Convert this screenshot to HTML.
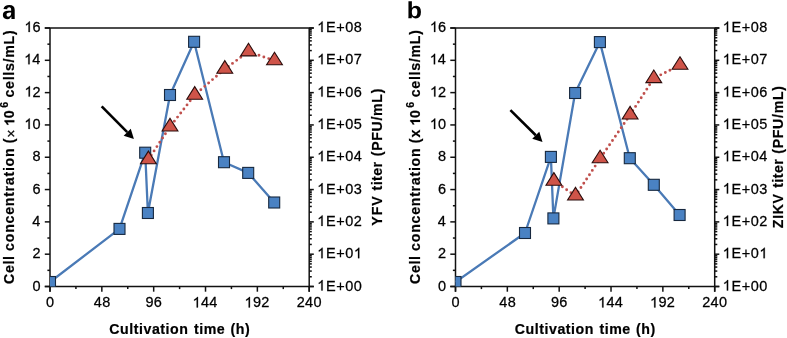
<!DOCTYPE html>
<html><head><meta charset="utf-8"><style>
html,body{margin:0;padding:0;background:#fff;}
svg{display:block;will-change:transform;}
</style></head><body>
<svg width="787" height="338" viewBox="0 0 787 338">
<rect width="787" height="338" fill="#fff"/>
<g stroke="#111" stroke-width="1.5" fill="none">
<path d="M44.8,28H313.8"/>
<path d="M50,28V291.7"/>
<path d="M44.8,286.5H313.8"/>
<path d="M309.2,28V291.7"/>
<path d="M44.8,286.50H50"/>
<path d="M47.4,270.34H50"/>
<path d="M44.8,254.19H50"/>
<path d="M47.4,238.03H50"/>
<path d="M44.8,221.88H50"/>
<path d="M47.4,205.72H50"/>
<path d="M44.8,189.56H50"/>
<path d="M47.4,173.41H50"/>
<path d="M44.8,157.25H50"/>
<path d="M47.4,141.09H50"/>
<path d="M44.8,124.94H50"/>
<path d="M47.4,108.78H50"/>
<path d="M44.8,92.62H50"/>
<path d="M47.4,76.47H50"/>
<path d="M44.8,60.31H50"/>
<path d="M47.4,44.16H50"/>
<path d="M44.8,28.00H50"/>
<path d="M50.00,286.5V291.7"/>
<path d="M75.92,286.5V289.1"/>
<path d="M101.84,286.5V291.7"/>
<path d="M127.76,286.5V289.1"/>
<path d="M153.68,286.5V291.7"/>
<path d="M179.60,286.5V289.1"/>
<path d="M205.52,286.5V291.7"/>
<path d="M231.44,286.5V289.1"/>
<path d="M257.36,286.5V291.7"/>
<path d="M283.28,286.5V289.1"/>
<path d="M309.20,286.5V291.7"/>
<path d="M309.2,286.50H313.8"/>
<path d="M309.2,276.77H311.8"/>
<path d="M309.2,271.08H311.8"/>
<path d="M309.2,267.05H311.8"/>
<path d="M309.2,263.91H311.8"/>
<path d="M309.2,261.36H311.8"/>
<path d="M309.2,259.19H311.8"/>
<path d="M309.2,257.32H311.8"/>
<path d="M309.2,255.67H311.8"/>
<path d="M309.2,254.19H313.8"/>
<path d="M309.2,244.46H311.8"/>
<path d="M309.2,238.77H311.8"/>
<path d="M309.2,234.73H311.8"/>
<path d="M309.2,231.60H311.8"/>
<path d="M309.2,229.04H311.8"/>
<path d="M309.2,226.88H311.8"/>
<path d="M309.2,225.01H311.8"/>
<path d="M309.2,223.35H311.8"/>
<path d="M309.2,221.88H313.8"/>
<path d="M309.2,212.15H311.8"/>
<path d="M309.2,206.46H311.8"/>
<path d="M309.2,202.42H311.8"/>
<path d="M309.2,199.29H311.8"/>
<path d="M309.2,196.73H311.8"/>
<path d="M309.2,194.57H311.8"/>
<path d="M309.2,192.69H311.8"/>
<path d="M309.2,191.04H311.8"/>
<path d="M309.2,189.56H313.8"/>
<path d="M309.2,179.84H311.8"/>
<path d="M309.2,174.15H311.8"/>
<path d="M309.2,170.11H311.8"/>
<path d="M309.2,166.98H311.8"/>
<path d="M309.2,164.42H311.8"/>
<path d="M309.2,162.26H311.8"/>
<path d="M309.2,160.38H311.8"/>
<path d="M309.2,158.73H311.8"/>
<path d="M309.2,157.25H313.8"/>
<path d="M309.2,147.52H311.8"/>
<path d="M309.2,141.83H311.8"/>
<path d="M309.2,137.80H311.8"/>
<path d="M309.2,134.66H311.8"/>
<path d="M309.2,132.11H311.8"/>
<path d="M309.2,129.94H311.8"/>
<path d="M309.2,128.07H311.8"/>
<path d="M309.2,126.42H311.8"/>
<path d="M309.2,124.94H313.8"/>
<path d="M309.2,115.21H311.8"/>
<path d="M309.2,109.52H311.8"/>
<path d="M309.2,105.48H311.8"/>
<path d="M309.2,102.35H311.8"/>
<path d="M309.2,99.79H311.8"/>
<path d="M309.2,97.63H311.8"/>
<path d="M309.2,95.76H311.8"/>
<path d="M309.2,94.10H311.8"/>
<path d="M309.2,92.62H313.8"/>
<path d="M309.2,82.90H311.8"/>
<path d="M309.2,77.21H311.8"/>
<path d="M309.2,73.17H311.8"/>
<path d="M309.2,70.04H311.8"/>
<path d="M309.2,67.48H311.8"/>
<path d="M309.2,65.32H311.8"/>
<path d="M309.2,63.44H311.8"/>
<path d="M309.2,61.79H311.8"/>
<path d="M309.2,60.31H313.8"/>
<path d="M309.2,50.59H311.8"/>
<path d="M309.2,44.90H311.8"/>
<path d="M309.2,40.86H311.8"/>
<path d="M309.2,37.73H311.8"/>
<path d="M309.2,35.17H311.8"/>
<path d="M309.2,33.01H311.8"/>
<path d="M309.2,31.13H311.8"/>
<path d="M309.2,29.48H311.8"/>
<path d="M309.2,28.00H313.8"/>
</g>
<g font-family="Liberation Sans, sans-serif" fill="#000" stroke="#000" stroke-width="0.25">
<g transform="translate(32.40,290.50) scale(1,1.05)"><text x="0.00" y="0.00" font-size="14.5" font-weight="normal" letter-spacing="0.0">0</text></g>
<g transform="translate(32.57,258.19) scale(1,1.05)"><text x="0.00" y="0.00" font-size="14.5" font-weight="normal" letter-spacing="0.0">2</text></g>
<g transform="translate(32.26,225.88) scale(1,1.05)"><text x="0.00" y="0.00" font-size="14.5" font-weight="normal" letter-spacing="0.0">4</text></g>
<g transform="translate(32.47,193.56) scale(1,1.05)"><text x="0.00" y="0.00" font-size="14.5" font-weight="normal" letter-spacing="0.0">6</text></g>
<g transform="translate(32.47,161.25) scale(1,1.05)"><text x="0.00" y="0.00" font-size="14.5" font-weight="normal" letter-spacing="0.0">8</text></g>
<g transform="translate(24.34,128.94) scale(1,1.05)"><text x="0.00" y="0.00" font-size="14.5" font-weight="normal" letter-spacing="0.0"> 0</text><path d="M763,0L583,0L583,1098Q518,1039 415,981Q312,923 223,891L223,1058Q374,1126 489,1224Q604,1322 652,1409L763,1409Z" transform="translate(0.000,0.000) scale(0.00708,-0.00708)" fill="#000" vector-effect="non-scaling-stroke"/></g>
<g transform="translate(24.50,96.62) scale(1,1.05)"><text x="0.00" y="0.00" font-size="14.5" font-weight="normal" letter-spacing="0.0"> 2</text><path d="M763,0L583,0L583,1098Q518,1039 415,981Q312,923 223,891L223,1058Q374,1126 489,1224Q604,1322 652,1409L763,1409Z" transform="translate(0.000,0.000) scale(0.00708,-0.00708)" fill="#000" vector-effect="non-scaling-stroke"/></g>
<g transform="translate(24.20,64.31) scale(1,1.05)"><text x="0.00" y="0.00" font-size="14.5" font-weight="normal" letter-spacing="0.0"> 4</text><path d="M763,0L583,0L583,1098Q518,1039 415,981Q312,923 223,891L223,1058Q374,1126 489,1224Q604,1322 652,1409L763,1409Z" transform="translate(0.000,0.000) scale(0.00708,-0.00708)" fill="#000" vector-effect="non-scaling-stroke"/></g>
<g transform="translate(24.41,32.00) scale(1,1.05)"><text x="0.00" y="0.00" font-size="14.5" font-weight="normal" letter-spacing="0.0"> 6</text><path d="M763,0L583,0L583,1098Q518,1039 415,981Q312,923 223,891L223,1058Q374,1126 489,1224Q604,1322 652,1409L763,1409Z" transform="translate(0.000,0.000) scale(0.00708,-0.00708)" fill="#000" vector-effect="non-scaling-stroke"/></g>
<g transform="translate(45.97,307.40) scale(1,1.05)"><text x="0.00" y="0.00" font-size="14.5" font-weight="normal" letter-spacing="0.3">0</text></g>
<g transform="translate(93.77,307.40) scale(1,1.05)"><text x="0.00" y="0.00" font-size="14.5" font-weight="normal" letter-spacing="0.3">48</text></g>
<g transform="translate(145.44,307.40) scale(1,1.05)"><text x="0.00" y="0.00" font-size="14.5" font-weight="normal" letter-spacing="0.3">96</text></g>
<g transform="translate(192.55,307.40) scale(1,1.05)"><text x="0.00" y="0.00" font-size="14.5" font-weight="normal" letter-spacing="0.3"> 44</text><path d="M763,0L583,0L583,1098Q518,1039 415,981Q312,923 223,891L223,1058Q374,1126 489,1224Q604,1322 652,1409L763,1409Z" transform="translate(0.000,0.000) scale(0.00708,-0.00708)" fill="#000" vector-effect="non-scaling-stroke"/></g>
<g transform="translate(244.54,307.40) scale(1,1.05)"><text x="0.00" y="0.00" font-size="14.5" font-weight="normal" letter-spacing="0.3"> 92</text><path d="M763,0L583,0L583,1098Q518,1039 415,981Q312,923 223,891L223,1058Q374,1126 489,1224Q604,1322 652,1409L763,1409Z" transform="translate(0.000,0.000) scale(0.00708,-0.00708)" fill="#000" vector-effect="non-scaling-stroke"/></g>
<g transform="translate(296.72,307.40) scale(1,1.05)"><text x="0.00" y="0.00" font-size="14.5" font-weight="normal" letter-spacing="0.3">240</text></g>
<g transform="translate(317.22,290.50) scale(1,1.05)"><text x="0.00" y="0.00" font-size="14.5" font-weight="normal" letter-spacing="0.6"> E+00</text><path d="M763,0L583,0L583,1098Q518,1039 415,981Q312,923 223,891L223,1058Q374,1126 489,1224Q604,1322 652,1409L763,1409Z" transform="translate(0.000,0.000) scale(0.00708,-0.00708)" fill="#000" vector-effect="non-scaling-stroke"/></g>
<g transform="translate(317.22,258.19) scale(1,1.05)"><text x="0.00" y="0.00" font-size="14.5" font-weight="normal" letter-spacing="0.6"> E+0 </text><path d="M763,0L583,0L583,1098Q518,1039 415,981Q312,923 223,891L223,1058Q374,1126 489,1224Q604,1322 652,1409L763,1409Z" transform="translate(0.000,0.000) scale(0.00708,-0.00708)" fill="#000" vector-effect="non-scaling-stroke"/><path d="M763,0L583,0L583,1098Q518,1039 415,981Q312,923 223,891L223,1058Q374,1126 489,1224Q604,1322 652,1409L763,1409Z" transform="translate(36.668,0.000) scale(0.00708,-0.00708)" fill="#000" vector-effect="non-scaling-stroke"/></g>
<g transform="translate(317.22,225.88) scale(1,1.05)"><text x="0.00" y="0.00" font-size="14.5" font-weight="normal" letter-spacing="0.6"> E+02</text><path d="M763,0L583,0L583,1098Q518,1039 415,981Q312,923 223,891L223,1058Q374,1126 489,1224Q604,1322 652,1409L763,1409Z" transform="translate(0.000,0.000) scale(0.00708,-0.00708)" fill="#000" vector-effect="non-scaling-stroke"/></g>
<g transform="translate(317.22,193.56) scale(1,1.05)"><text x="0.00" y="0.00" font-size="14.5" font-weight="normal" letter-spacing="0.6"> E+03</text><path d="M763,0L583,0L583,1098Q518,1039 415,981Q312,923 223,891L223,1058Q374,1126 489,1224Q604,1322 652,1409L763,1409Z" transform="translate(0.000,0.000) scale(0.00708,-0.00708)" fill="#000" vector-effect="non-scaling-stroke"/></g>
<g transform="translate(317.22,161.25) scale(1,1.05)"><text x="0.00" y="0.00" font-size="14.5" font-weight="normal" letter-spacing="0.6"> E+04</text><path d="M763,0L583,0L583,1098Q518,1039 415,981Q312,923 223,891L223,1058Q374,1126 489,1224Q604,1322 652,1409L763,1409Z" transform="translate(0.000,0.000) scale(0.00708,-0.00708)" fill="#000" vector-effect="non-scaling-stroke"/></g>
<g transform="translate(317.22,128.94) scale(1,1.05)"><text x="0.00" y="0.00" font-size="14.5" font-weight="normal" letter-spacing="0.6"> E+05</text><path d="M763,0L583,0L583,1098Q518,1039 415,981Q312,923 223,891L223,1058Q374,1126 489,1224Q604,1322 652,1409L763,1409Z" transform="translate(0.000,0.000) scale(0.00708,-0.00708)" fill="#000" vector-effect="non-scaling-stroke"/></g>
<g transform="translate(317.22,96.62) scale(1,1.05)"><text x="0.00" y="0.00" font-size="14.5" font-weight="normal" letter-spacing="0.6"> E+06</text><path d="M763,0L583,0L583,1098Q518,1039 415,981Q312,923 223,891L223,1058Q374,1126 489,1224Q604,1322 652,1409L763,1409Z" transform="translate(0.000,0.000) scale(0.00708,-0.00708)" fill="#000" vector-effect="non-scaling-stroke"/></g>
<g transform="translate(317.22,64.31) scale(1,1.05)"><text x="0.00" y="0.00" font-size="14.5" font-weight="normal" letter-spacing="0.6"> E+07</text><path d="M763,0L583,0L583,1098Q518,1039 415,981Q312,923 223,891L223,1058Q374,1126 489,1224Q604,1322 652,1409L763,1409Z" transform="translate(0.000,0.000) scale(0.00708,-0.00708)" fill="#000" vector-effect="non-scaling-stroke"/></g>
<g transform="translate(317.22,32.00) scale(1,1.05)"><text x="0.00" y="0.00" font-size="14.5" font-weight="normal" letter-spacing="0.6"> E+08</text><path d="M763,0L583,0L583,1098Q518,1039 415,981Q312,923 223,891L223,1058Q374,1126 489,1224Q604,1322 652,1409L763,1409Z" transform="translate(0.000,0.000) scale(0.00708,-0.00708)" fill="#000" vector-effect="non-scaling-stroke"/></g>
</g>
<g font-family="Liberation Sans, sans-serif" font-size="14.2" font-weight="bold" fill="#000" stroke="#000" stroke-width="0.2">
<text x="109.27" y="333.70" font-size="14.2" font-weight="bold" letter-spacing="0.54">Cultivation</text>
<text x="193.98" y="333.70" font-size="14.2" font-weight="bold" letter-spacing="0.52">time</text>
<text x="230.54" y="333.70" font-size="14.2" font-weight="bold" letter-spacing="0.49">(h)</text>
<g transform="translate(14.30,0) rotate(-90)"><text x="-284.03" y="0.00" font-size="14.2" font-weight="bold" letter-spacing="0.68">Cell</text></g>
<g transform="translate(14.30,0) rotate(-90)"><text x="-250.90" y="0.00" font-size="14.2" font-weight="bold" letter-spacing="0.73">concentration</text></g>
<g transform="translate(14.30,0) rotate(-90)"><text x="-143.16" y="0.00" font-size="14.2" font-weight="bold" letter-spacing="0">(</text></g>
<g transform="translate(14.30,0) rotate(-90)"><text x="-137.78" y="1.50" font-size="14.2" font-weight="normal" letter-spacing="0">×</text></g>
<g transform="translate(14.30,0) rotate(-90)"><text x="-126.17" y="0.00" font-size="14.2" font-weight="bold" letter-spacing="0"> 0</text><path d="M856,0L575,0L575,1018Q420,879 212,814L212,1059Q330,1096 460,1192Q580,1283 628,1409L856,1409Z" transform="translate(-126.170,0.000) scale(0.00693,-0.00693)" fill="#000" vector-effect="non-scaling-stroke"/></g>
<g transform="translate(14.30,0) rotate(-90)"><text x="-107.78" y="-6.00" font-size="10.5" font-weight="bold" letter-spacing="0">6</text></g>
<g transform="translate(14.30,0) rotate(-90)"><text x="-97.55" y="0.00" font-size="14.2" font-weight="bold" letter-spacing="0.72">cells/mL)</text></g>
<g transform="translate(381.70,0) rotate(-90)"><text x="-225.69" y="0.00" font-size="14.2" font-weight="bold" letter-spacing="0.91">YFV</text></g>
<g transform="translate(381.70,0) rotate(-90)"><text x="-190.52" y="0.00" font-size="14.2" font-weight="bold" letter-spacing="0.44">titer</text></g>
<g transform="translate(381.70,0) rotate(-90)"><text x="-156.16" y="0.00" font-size="14.2" font-weight="bold" letter-spacing="0.64">(PFU/mL)</text></g>
</g>
<path d="M393 -20Q236 -20 148.0 65.5Q60 151 60 306Q60 474 169.5 562.0Q279 650 487 652L720 656V711Q720 817 683.0 868.5Q646 920 562 920Q484 920 447.5 884.5Q411 849 402 767L109 781Q136 939 253.5 1020.5Q371 1102 574 1102Q779 1102 890.0 1001.0Q1001 900 1001 714V0H742Q736 60 740 193H734Q631 -20 393 -20ZM720 501 576 499Q478 495 437.0 477.5Q396 460 374.5 424.0Q353 388 353 328Q353 251 388.5 213.5Q424 176 483 176Q549 176 603.5 212.0Q658 248 689.0 311.5Q720 375 720 446Z" transform="translate(2.100,18.900) scale(0.01260,-0.01260)" fill="#000"/>
<clipPath id="clipa"><rect x="50" y="8" width="279.2" height="278.5"/></clipPath>
<g clip-path="url(#clipa)">
<polyline points="50.00,282.00 119.50,228.90 145.20,152.70 147.90,213.00 170.00,95.00 194.10,41.80 224.00,162.20 248.20,172.90 274.20,202.50" fill="none" stroke="#4A7AB6" stroke-width="2.3" stroke-linejoin="round"/>
<rect x="44.50" y="276.50" width="11" height="11" fill="#4A82C3" stroke="#17283f" stroke-width="1.1"/>
<rect x="114.00" y="223.40" width="11" height="11" fill="#4A82C3" stroke="#17283f" stroke-width="1.1"/>
<rect x="139.70" y="147.20" width="11" height="11" fill="#4A82C3" stroke="#17283f" stroke-width="1.1"/>
<rect x="142.40" y="207.50" width="11" height="11" fill="#4A82C3" stroke="#17283f" stroke-width="1.1"/>
<rect x="164.50" y="89.50" width="11" height="11" fill="#4A82C3" stroke="#17283f" stroke-width="1.1"/>
<rect x="188.60" y="36.30" width="11" height="11" fill="#4A82C3" stroke="#17283f" stroke-width="1.1"/>
<rect x="218.50" y="156.70" width="11" height="11" fill="#4A82C3" stroke="#17283f" stroke-width="1.1"/>
<rect x="242.70" y="167.40" width="11" height="11" fill="#4A82C3" stroke="#17283f" stroke-width="1.1"/>
<rect x="268.70" y="197.00" width="11" height="11" fill="#4A82C3" stroke="#17283f" stroke-width="1.1"/>
<polyline points="148.40,159.50 170.00,126.80 194.70,95.00 224.80,69.00 248.50,51.70 274.50,60.60" fill="none" stroke="#C0504D" stroke-width="2.9" stroke-linecap="round" stroke-dasharray="0 5.15"/>
<polygon points="140.50,163.70 156.30,163.70 148.40,151.10" fill="#CF5449" stroke="#2b0d0c" stroke-width="1.1" stroke-linejoin="miter"/>
<polygon points="162.10,131.00 177.90,131.00 170.00,118.40" fill="#CF5449" stroke="#2b0d0c" stroke-width="1.1" stroke-linejoin="miter"/>
<polygon points="186.80,99.20 202.60,99.20 194.70,86.60" fill="#CF5449" stroke="#2b0d0c" stroke-width="1.1" stroke-linejoin="miter"/>
<polygon points="216.90,73.20 232.70,73.20 224.80,60.60" fill="#CF5449" stroke="#2b0d0c" stroke-width="1.1" stroke-linejoin="miter"/>
<polygon points="240.60,55.90 256.40,55.90 248.50,43.30" fill="#CF5449" stroke="#2b0d0c" stroke-width="1.1" stroke-linejoin="miter"/>
<polygon points="266.60,64.80 282.40,64.80 274.50,52.20" fill="#CF5449" stroke="#2b0d0c" stroke-width="1.1" stroke-linejoin="miter"/>
</g>
<line x1="101.7" y1="106.4" x2="127.21" y2="132.15" stroke="#000" stroke-width="2.6"/>
<polygon points="133.90,138.90 123.66,135.67 130.77,128.63" fill="#000"/>
<g stroke="#111" stroke-width="1.5" fill="none">
<path d="M450.3,28H719.3000000000001"/>
<path d="M455.5,28V291.7"/>
<path d="M450.3,286.5H719.3000000000001"/>
<path d="M714.7,28V291.7"/>
<path d="M450.3,286.50H455.5"/>
<path d="M452.9,270.34H455.5"/>
<path d="M450.3,254.19H455.5"/>
<path d="M452.9,238.03H455.5"/>
<path d="M450.3,221.88H455.5"/>
<path d="M452.9,205.72H455.5"/>
<path d="M450.3,189.56H455.5"/>
<path d="M452.9,173.41H455.5"/>
<path d="M450.3,157.25H455.5"/>
<path d="M452.9,141.09H455.5"/>
<path d="M450.3,124.94H455.5"/>
<path d="M452.9,108.78H455.5"/>
<path d="M450.3,92.62H455.5"/>
<path d="M452.9,76.47H455.5"/>
<path d="M450.3,60.31H455.5"/>
<path d="M452.9,44.16H455.5"/>
<path d="M450.3,28.00H455.5"/>
<path d="M455.50,286.5V291.7"/>
<path d="M481.42,286.5V289.1"/>
<path d="M507.34,286.5V291.7"/>
<path d="M533.26,286.5V289.1"/>
<path d="M559.18,286.5V291.7"/>
<path d="M585.10,286.5V289.1"/>
<path d="M611.02,286.5V291.7"/>
<path d="M636.94,286.5V289.1"/>
<path d="M662.86,286.5V291.7"/>
<path d="M688.78,286.5V289.1"/>
<path d="M714.70,286.5V291.7"/>
<path d="M714.7,286.50H719.3000000000001"/>
<path d="M714.7,276.77H717.3000000000001"/>
<path d="M714.7,271.08H717.3000000000001"/>
<path d="M714.7,267.05H717.3000000000001"/>
<path d="M714.7,263.91H717.3000000000001"/>
<path d="M714.7,261.36H717.3000000000001"/>
<path d="M714.7,259.19H717.3000000000001"/>
<path d="M714.7,257.32H717.3000000000001"/>
<path d="M714.7,255.67H717.3000000000001"/>
<path d="M714.7,254.19H719.3000000000001"/>
<path d="M714.7,244.46H717.3000000000001"/>
<path d="M714.7,238.77H717.3000000000001"/>
<path d="M714.7,234.73H717.3000000000001"/>
<path d="M714.7,231.60H717.3000000000001"/>
<path d="M714.7,229.04H717.3000000000001"/>
<path d="M714.7,226.88H717.3000000000001"/>
<path d="M714.7,225.01H717.3000000000001"/>
<path d="M714.7,223.35H717.3000000000001"/>
<path d="M714.7,221.88H719.3000000000001"/>
<path d="M714.7,212.15H717.3000000000001"/>
<path d="M714.7,206.46H717.3000000000001"/>
<path d="M714.7,202.42H717.3000000000001"/>
<path d="M714.7,199.29H717.3000000000001"/>
<path d="M714.7,196.73H717.3000000000001"/>
<path d="M714.7,194.57H717.3000000000001"/>
<path d="M714.7,192.69H717.3000000000001"/>
<path d="M714.7,191.04H717.3000000000001"/>
<path d="M714.7,189.56H719.3000000000001"/>
<path d="M714.7,179.84H717.3000000000001"/>
<path d="M714.7,174.15H717.3000000000001"/>
<path d="M714.7,170.11H717.3000000000001"/>
<path d="M714.7,166.98H717.3000000000001"/>
<path d="M714.7,164.42H717.3000000000001"/>
<path d="M714.7,162.26H717.3000000000001"/>
<path d="M714.7,160.38H717.3000000000001"/>
<path d="M714.7,158.73H717.3000000000001"/>
<path d="M714.7,157.25H719.3000000000001"/>
<path d="M714.7,147.52H717.3000000000001"/>
<path d="M714.7,141.83H717.3000000000001"/>
<path d="M714.7,137.80H717.3000000000001"/>
<path d="M714.7,134.66H717.3000000000001"/>
<path d="M714.7,132.11H717.3000000000001"/>
<path d="M714.7,129.94H717.3000000000001"/>
<path d="M714.7,128.07H717.3000000000001"/>
<path d="M714.7,126.42H717.3000000000001"/>
<path d="M714.7,124.94H719.3000000000001"/>
<path d="M714.7,115.21H717.3000000000001"/>
<path d="M714.7,109.52H717.3000000000001"/>
<path d="M714.7,105.48H717.3000000000001"/>
<path d="M714.7,102.35H717.3000000000001"/>
<path d="M714.7,99.79H717.3000000000001"/>
<path d="M714.7,97.63H717.3000000000001"/>
<path d="M714.7,95.76H717.3000000000001"/>
<path d="M714.7,94.10H717.3000000000001"/>
<path d="M714.7,92.62H719.3000000000001"/>
<path d="M714.7,82.90H717.3000000000001"/>
<path d="M714.7,77.21H717.3000000000001"/>
<path d="M714.7,73.17H717.3000000000001"/>
<path d="M714.7,70.04H717.3000000000001"/>
<path d="M714.7,67.48H717.3000000000001"/>
<path d="M714.7,65.32H717.3000000000001"/>
<path d="M714.7,63.44H717.3000000000001"/>
<path d="M714.7,61.79H717.3000000000001"/>
<path d="M714.7,60.31H719.3000000000001"/>
<path d="M714.7,50.59H717.3000000000001"/>
<path d="M714.7,44.90H717.3000000000001"/>
<path d="M714.7,40.86H717.3000000000001"/>
<path d="M714.7,37.73H717.3000000000001"/>
<path d="M714.7,35.17H717.3000000000001"/>
<path d="M714.7,33.01H717.3000000000001"/>
<path d="M714.7,31.13H717.3000000000001"/>
<path d="M714.7,29.48H717.3000000000001"/>
<path d="M714.7,28.00H719.3000000000001"/>
</g>
<g font-family="Liberation Sans, sans-serif" fill="#000" stroke="#000" stroke-width="0.25">
<g transform="translate(437.90,290.50) scale(1,1.05)"><text x="0.00" y="0.00" font-size="14.5" font-weight="normal" letter-spacing="0.0">0</text></g>
<g transform="translate(438.07,258.19) scale(1,1.05)"><text x="0.00" y="0.00" font-size="14.5" font-weight="normal" letter-spacing="0.0">2</text></g>
<g transform="translate(437.76,225.88) scale(1,1.05)"><text x="0.00" y="0.00" font-size="14.5" font-weight="normal" letter-spacing="0.0">4</text></g>
<g transform="translate(437.97,193.56) scale(1,1.05)"><text x="0.00" y="0.00" font-size="14.5" font-weight="normal" letter-spacing="0.0">6</text></g>
<g transform="translate(437.97,161.25) scale(1,1.05)"><text x="0.00" y="0.00" font-size="14.5" font-weight="normal" letter-spacing="0.0">8</text></g>
<g transform="translate(429.84,128.94) scale(1,1.05)"><text x="0.00" y="0.00" font-size="14.5" font-weight="normal" letter-spacing="0.0"> 0</text><path d="M763,0L583,0L583,1098Q518,1039 415,981Q312,923 223,891L223,1058Q374,1126 489,1224Q604,1322 652,1409L763,1409Z" transform="translate(0.000,0.000) scale(0.00708,-0.00708)" fill="#000" vector-effect="non-scaling-stroke"/></g>
<g transform="translate(430.00,96.62) scale(1,1.05)"><text x="0.00" y="0.00" font-size="14.5" font-weight="normal" letter-spacing="0.0"> 2</text><path d="M763,0L583,0L583,1098Q518,1039 415,981Q312,923 223,891L223,1058Q374,1126 489,1224Q604,1322 652,1409L763,1409Z" transform="translate(0.000,0.000) scale(0.00708,-0.00708)" fill="#000" vector-effect="non-scaling-stroke"/></g>
<g transform="translate(429.70,64.31) scale(1,1.05)"><text x="0.00" y="0.00" font-size="14.5" font-weight="normal" letter-spacing="0.0"> 4</text><path d="M763,0L583,0L583,1098Q518,1039 415,981Q312,923 223,891L223,1058Q374,1126 489,1224Q604,1322 652,1409L763,1409Z" transform="translate(0.000,0.000) scale(0.00708,-0.00708)" fill="#000" vector-effect="non-scaling-stroke"/></g>
<g transform="translate(429.91,32.00) scale(1,1.05)"><text x="0.00" y="0.00" font-size="14.5" font-weight="normal" letter-spacing="0.0"> 6</text><path d="M763,0L583,0L583,1098Q518,1039 415,981Q312,923 223,891L223,1058Q374,1126 489,1224Q604,1322 652,1409L763,1409Z" transform="translate(0.000,0.000) scale(0.00708,-0.00708)" fill="#000" vector-effect="non-scaling-stroke"/></g>
<g transform="translate(451.47,307.40) scale(1,1.05)"><text x="0.00" y="0.00" font-size="14.5" font-weight="normal" letter-spacing="0.3">0</text></g>
<g transform="translate(499.27,307.40) scale(1,1.05)"><text x="0.00" y="0.00" font-size="14.5" font-weight="normal" letter-spacing="0.3">48</text></g>
<g transform="translate(550.94,307.40) scale(1,1.05)"><text x="0.00" y="0.00" font-size="14.5" font-weight="normal" letter-spacing="0.3">96</text></g>
<g transform="translate(598.05,307.40) scale(1,1.05)"><text x="0.00" y="0.00" font-size="14.5" font-weight="normal" letter-spacing="0.3"> 44</text><path d="M763,0L583,0L583,1098Q518,1039 415,981Q312,923 223,891L223,1058Q374,1126 489,1224Q604,1322 652,1409L763,1409Z" transform="translate(0.000,0.000) scale(0.00708,-0.00708)" fill="#000" vector-effect="non-scaling-stroke"/></g>
<g transform="translate(650.04,307.40) scale(1,1.05)"><text x="0.00" y="0.00" font-size="14.5" font-weight="normal" letter-spacing="0.3"> 92</text><path d="M763,0L583,0L583,1098Q518,1039 415,981Q312,923 223,891L223,1058Q374,1126 489,1224Q604,1322 652,1409L763,1409Z" transform="translate(0.000,0.000) scale(0.00708,-0.00708)" fill="#000" vector-effect="non-scaling-stroke"/></g>
<g transform="translate(702.22,307.40) scale(1,1.05)"><text x="0.00" y="0.00" font-size="14.5" font-weight="normal" letter-spacing="0.3">240</text></g>
<g transform="translate(722.72,290.50) scale(1,1.05)"><text x="0.00" y="0.00" font-size="14.5" font-weight="normal" letter-spacing="0.6"> E+00</text><path d="M763,0L583,0L583,1098Q518,1039 415,981Q312,923 223,891L223,1058Q374,1126 489,1224Q604,1322 652,1409L763,1409Z" transform="translate(0.000,0.000) scale(0.00708,-0.00708)" fill="#000" vector-effect="non-scaling-stroke"/></g>
<g transform="translate(722.72,258.19) scale(1,1.05)"><text x="0.00" y="0.00" font-size="14.5" font-weight="normal" letter-spacing="0.6"> E+0 </text><path d="M763,0L583,0L583,1098Q518,1039 415,981Q312,923 223,891L223,1058Q374,1126 489,1224Q604,1322 652,1409L763,1409Z" transform="translate(0.000,0.000) scale(0.00708,-0.00708)" fill="#000" vector-effect="non-scaling-stroke"/><path d="M763,0L583,0L583,1098Q518,1039 415,981Q312,923 223,891L223,1058Q374,1126 489,1224Q604,1322 652,1409L763,1409Z" transform="translate(36.668,0.000) scale(0.00708,-0.00708)" fill="#000" vector-effect="non-scaling-stroke"/></g>
<g transform="translate(722.72,225.88) scale(1,1.05)"><text x="0.00" y="0.00" font-size="14.5" font-weight="normal" letter-spacing="0.6"> E+02</text><path d="M763,0L583,0L583,1098Q518,1039 415,981Q312,923 223,891L223,1058Q374,1126 489,1224Q604,1322 652,1409L763,1409Z" transform="translate(0.000,0.000) scale(0.00708,-0.00708)" fill="#000" vector-effect="non-scaling-stroke"/></g>
<g transform="translate(722.72,193.56) scale(1,1.05)"><text x="0.00" y="0.00" font-size="14.5" font-weight="normal" letter-spacing="0.6"> E+03</text><path d="M763,0L583,0L583,1098Q518,1039 415,981Q312,923 223,891L223,1058Q374,1126 489,1224Q604,1322 652,1409L763,1409Z" transform="translate(0.000,0.000) scale(0.00708,-0.00708)" fill="#000" vector-effect="non-scaling-stroke"/></g>
<g transform="translate(722.72,161.25) scale(1,1.05)"><text x="0.00" y="0.00" font-size="14.5" font-weight="normal" letter-spacing="0.6"> E+04</text><path d="M763,0L583,0L583,1098Q518,1039 415,981Q312,923 223,891L223,1058Q374,1126 489,1224Q604,1322 652,1409L763,1409Z" transform="translate(0.000,0.000) scale(0.00708,-0.00708)" fill="#000" vector-effect="non-scaling-stroke"/></g>
<g transform="translate(722.72,128.94) scale(1,1.05)"><text x="0.00" y="0.00" font-size="14.5" font-weight="normal" letter-spacing="0.6"> E+05</text><path d="M763,0L583,0L583,1098Q518,1039 415,981Q312,923 223,891L223,1058Q374,1126 489,1224Q604,1322 652,1409L763,1409Z" transform="translate(0.000,0.000) scale(0.00708,-0.00708)" fill="#000" vector-effect="non-scaling-stroke"/></g>
<g transform="translate(722.72,96.62) scale(1,1.05)"><text x="0.00" y="0.00" font-size="14.5" font-weight="normal" letter-spacing="0.6"> E+06</text><path d="M763,0L583,0L583,1098Q518,1039 415,981Q312,923 223,891L223,1058Q374,1126 489,1224Q604,1322 652,1409L763,1409Z" transform="translate(0.000,0.000) scale(0.00708,-0.00708)" fill="#000" vector-effect="non-scaling-stroke"/></g>
<g transform="translate(722.72,64.31) scale(1,1.05)"><text x="0.00" y="0.00" font-size="14.5" font-weight="normal" letter-spacing="0.6"> E+07</text><path d="M763,0L583,0L583,1098Q518,1039 415,981Q312,923 223,891L223,1058Q374,1126 489,1224Q604,1322 652,1409L763,1409Z" transform="translate(0.000,0.000) scale(0.00708,-0.00708)" fill="#000" vector-effect="non-scaling-stroke"/></g>
<g transform="translate(722.72,32.00) scale(1,1.05)"><text x="0.00" y="0.00" font-size="14.5" font-weight="normal" letter-spacing="0.6"> E+08</text><path d="M763,0L583,0L583,1098Q518,1039 415,981Q312,923 223,891L223,1058Q374,1126 489,1224Q604,1322 652,1409L763,1409Z" transform="translate(0.000,0.000) scale(0.00708,-0.00708)" fill="#000" vector-effect="non-scaling-stroke"/></g>
</g>
<g font-family="Liberation Sans, sans-serif" font-size="14.2" font-weight="bold" fill="#000" stroke="#000" stroke-width="0.2">
<text x="514.77" y="333.70" font-size="14.2" font-weight="bold" letter-spacing="0.54">Cultivation</text>
<text x="599.48" y="333.70" font-size="14.2" font-weight="bold" letter-spacing="0.52">time</text>
<text x="636.04" y="333.70" font-size="14.2" font-weight="bold" letter-spacing="0.49">(h)</text>
<g transform="translate(420.00,0) rotate(-90)"><text x="-284.03" y="0.00" font-size="14.2" font-weight="bold" letter-spacing="0.68">Cell</text></g>
<g transform="translate(420.00,0) rotate(-90)"><text x="-250.90" y="0.00" font-size="14.2" font-weight="bold" letter-spacing="0.73">concentration</text></g>
<g transform="translate(420.00,0) rotate(-90)"><text x="-143.16" y="0.00" font-size="14.2" font-weight="bold" letter-spacing="0">(</text></g>
<g transform="translate(420.00,0) rotate(-90)"><text x="-137.40" y="0.00" font-size="14.2" font-weight="bold" letter-spacing="0">x</text></g>
<g transform="translate(420.00,0) rotate(-90)"><text x="-125.87" y="0.00" font-size="14.2" font-weight="bold" letter-spacing="0"> 0</text><path d="M856,0L575,0L575,1018Q420,879 212,814L212,1059Q330,1096 460,1192Q580,1283 628,1409L856,1409Z" transform="translate(-125.870,0.000) scale(0.00693,-0.00693)" fill="#000" vector-effect="non-scaling-stroke"/></g>
<g transform="translate(420.00,0) rotate(-90)"><text x="-107.78" y="-6.00" font-size="10.5" font-weight="bold" letter-spacing="0">6</text></g>
<g transform="translate(420.00,0) rotate(-90)"><text x="-97.35" y="0.00" font-size="14.2" font-weight="bold" letter-spacing="0.72">cells/mL)</text></g>
<g transform="translate(782.60,0) rotate(-90)"><text x="-228.17" y="0.00" font-size="14.2" font-weight="bold" letter-spacing="0.62">ZIKV</text></g>
<g transform="translate(782.60,0) rotate(-90)"><text x="-187.82" y="0.00" font-size="14.2" font-weight="bold" letter-spacing="0.44">titer</text></g>
<g transform="translate(782.60,0) rotate(-90)"><text x="-153.76" y="0.00" font-size="14.2" font-weight="bold" letter-spacing="0.67">(PFU/mL)</text></g>
</g>
<path d="M1167 545Q1167 277 1059.5 128.5Q952 -20 752 -20Q637 -20 553.0 30.0Q469 80 424 174H422Q422 139 417.5 78.0Q413 17 408 0H135Q143 93 143 247V1484H424V1070L420 894H424Q519 1102 770 1102Q962 1102 1064.5 956.5Q1167 811 1167 545ZM874 545Q874 729 820.0 818.0Q766 907 653 907Q539 907 479.5 811.5Q420 716 420 536Q420 364 478.5 268.0Q537 172 651 172Q874 172 874 545Z" transform="translate(406.700,18.200) scale(0.01221,-0.01135)" fill="#000"/>
<clipPath id="clipb"><rect x="455.5" y="8" width="279.20000000000005" height="278.5"/></clipPath>
<g clip-path="url(#clipb)">
<polyline points="455.50,282.00 525.00,233.00 550.90,156.90 553.40,218.40 575.10,93.00 599.90,42.10 629.80,158.20 653.80,184.80 679.60,215.00" fill="none" stroke="#4A7AB6" stroke-width="2.3" stroke-linejoin="round"/>
<rect x="450.00" y="276.50" width="11" height="11" fill="#4A82C3" stroke="#17283f" stroke-width="1.1"/>
<rect x="519.50" y="227.50" width="11" height="11" fill="#4A82C3" stroke="#17283f" stroke-width="1.1"/>
<rect x="545.40" y="151.40" width="11" height="11" fill="#4A82C3" stroke="#17283f" stroke-width="1.1"/>
<rect x="547.90" y="212.90" width="11" height="11" fill="#4A82C3" stroke="#17283f" stroke-width="1.1"/>
<rect x="569.60" y="87.50" width="11" height="11" fill="#4A82C3" stroke="#17283f" stroke-width="1.1"/>
<rect x="594.40" y="36.60" width="11" height="11" fill="#4A82C3" stroke="#17283f" stroke-width="1.1"/>
<rect x="624.30" y="152.70" width="11" height="11" fill="#4A82C3" stroke="#17283f" stroke-width="1.1"/>
<rect x="648.30" y="179.30" width="11" height="11" fill="#4A82C3" stroke="#17283f" stroke-width="1.1"/>
<rect x="674.10" y="209.50" width="11" height="11" fill="#4A82C3" stroke="#17283f" stroke-width="1.1"/>
<polyline points="553.90,181.00 575.50,195.80 600.10,158.60 630.10,114.80 653.80,78.40 680.00,65.10" fill="none" stroke="#C0504D" stroke-width="2.9" stroke-linecap="round" stroke-dasharray="0 5.15"/>
<polygon points="546.00,185.20 561.80,185.20 553.90,172.60" fill="#CF5449" stroke="#2b0d0c" stroke-width="1.1" stroke-linejoin="miter"/>
<polygon points="567.60,200.00 583.40,200.00 575.50,187.40" fill="#CF5449" stroke="#2b0d0c" stroke-width="1.1" stroke-linejoin="miter"/>
<polygon points="592.20,162.80 608.00,162.80 600.10,150.20" fill="#CF5449" stroke="#2b0d0c" stroke-width="1.1" stroke-linejoin="miter"/>
<polygon points="622.20,119.00 638.00,119.00 630.10,106.40" fill="#CF5449" stroke="#2b0d0c" stroke-width="1.1" stroke-linejoin="miter"/>
<polygon points="645.90,82.60 661.70,82.60 653.80,70.00" fill="#CF5449" stroke="#2b0d0c" stroke-width="1.1" stroke-linejoin="miter"/>
<polygon points="672.10,69.30 687.90,69.30 680.00,56.70" fill="#CF5449" stroke="#2b0d0c" stroke-width="1.1" stroke-linejoin="miter"/>
</g>
<line x1="510.4" y1="110.1" x2="535.75" y2="135.21" stroke="#000" stroke-width="2.6"/>
<polygon points="542.50,141.90 532.23,138.77 539.27,131.66" fill="#000"/>
</svg>
</body></html>
